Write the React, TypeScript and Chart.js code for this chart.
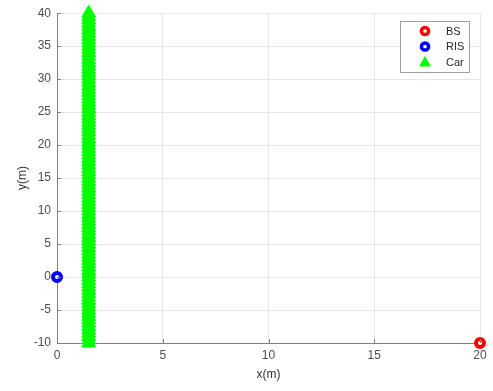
import React, { useEffect, useRef } from "react";
import { Chart, registerables } from "chart.js";

Chart.register(...registerables);

const seriesNames = ["BS", "RIS", "Car"];
const bsX = [20];
const bsY = [-10];
const risX = [0];
const risY = [0];
const carX = [1.5];
const carY = [
  -10, -9.5, -9, -8.5, -8, -7.5, -7, -6.5, -6, -5.5, -5, -4.5, -4, -3.5, -3, -2.5, -2, -1.5, -1, -0.5,
  0, 0.5, 1, 1.5, 2, 2.5, 3, 3.5, 4, 4.5, 5, 5.5, 6, 6.5, 7, 7.5, 8, 8.5, 9, 9.5,
  10, 10.5, 11, 11.5, 12, 12.5, 13, 13.5, 14, 14.5, 15, 15.5, 16, 16.5, 17, 17.5, 18, 18.5, 19, 19.5,
  20, 20.5, 21, 21.5, 22, 22.5, 23, 23.5, 24, 24.5, 25, 25.5, 26, 26.5, 27, 27.5, 28, 28.5, 29, 29.5,
  30, 30.5, 31, 31.5, 32, 32.5, 33, 33.5, 34, 34.5, 35, 35.5, 36, 36.5, 37, 37.5, 38, 38.5, 39, 39.5, 40,
];
const xTicks = [0, 5, 10, 15, 20];
const yTicks = [-10, -5, 0, 5, 10, 15, 20, 25, 30, 35, 40];
const xLabel = "x(m)";
const yLabel = "y(m)";

const FONT = "'Liberation Sans', Arial, Helvetica, sans-serif";

const tickMarksPlugin = {
  id: "tickMarks",
  afterDatasetsDraw(chart: any) {
    const { ctx, chartArea, scales } = chart;
    ctx.save();
    ctx.strokeStyle = "#808080";
    ctx.lineWidth = 1;
    ctx.beginPath();
    xTicks.forEach((v) => {
      const px = Math.round(scales.x.getPixelForValue(v)) + 0.5;
      ctx.moveTo(px, chartArea.bottom);
      ctx.lineTo(px, chartArea.bottom - 4);
    });
    yTicks.forEach((v) => {
      const py = Math.round(scales.y.getPixelForValue(v)) + 0.5;
      ctx.moveTo(chartArea.left, py);
      ctx.lineTo(chartArea.left + 4, py);
    });
    ctx.stroke();
    ctx.restore();
  },
};

const legendPlugin = {
  id: "boxLegend",
  afterDraw(chart: any) {
    const { ctx } = chart;
    const bx = 400.5, by = 21.5, bw = 69, bh = 51;
    ctx.save();
    ctx.fillStyle = "#ffffff";
    ctx.fillRect(bx, by, bw, bh);
    ctx.strokeStyle = "#a0a0a0";
    ctx.lineWidth = 1;
    ctx.strokeRect(bx, by, bw, bh);
    const rows = [31, 46.5, 62];
    chart.data.datasets.forEach((ds: any, i: number) => {
      const cx = 425, cy = rows[i];
      if (ds.pointStyle === "triangle") {
        ctx.fillStyle = ds.pointBackgroundColor;
        ctx.beginPath();
        ctx.moveTo(cx, cy - 6);
        ctx.lineTo(cx + 6, cy + 4.5);
        ctx.lineTo(cx - 6, cy + 4.5);
        ctx.closePath();
        ctx.fill();
      } else {
        ctx.strokeStyle = ds.pointBorderColor;
        ctx.lineWidth = 3.5;
        ctx.beginPath();
        ctx.arc(cx, cy, 3.6, 0, Math.PI * 2);
        ctx.stroke();
      }
      ctx.fillStyle = "#262626";
      ctx.font = `11px ${FONT}`;
      ctx.textBaseline = "middle";
      ctx.textAlign = "left";
      ctx.fillText(ds.label, 446, cy + 0.5);
    });
    ctx.restore();
  },
};

export default function App() {
  const ref = useRef<HTMLCanvasElement | null>(null);

  useEffect(() => {
    if (!ref.current) return;
    const toPts = (xs: number[], ys: number[]) =>
      ys.map((y, i) => ({ x: xs.length === 1 ? xs[0] : xs[i], y }));
    const chart = new Chart(ref.current, {
      type: "scatter",
      data: {
        datasets: [
          {
            label: seriesNames[0],
            data: toPts(bsX, bsY),
            pointStyle: "circle",
            pointRadius: 4,
            pointBorderWidth: 4,
            pointBorderColor: "#ff0000",
            pointBackgroundColor: "#ffffff",
            clip: false,
          } as any,
          {
            label: seriesNames[1],
            data: toPts(risX, risY),
            pointStyle: "circle",
            pointRadius: 4,
            pointBorderWidth: 4,
            pointBorderColor: "#0000ff",
            pointBackgroundColor: "#ffffff",
            clip: false,
          } as any,
          {
            label: seriesNames[2],
            data: toPts(carX, carY),
            pointStyle: "triangle",
            pointRadius: 8,
            pointBorderWidth: 1,
            pointBorderColor: "#00ff00",
            pointBackgroundColor: "#00ff00",
            clip: false,
          } as any,
        ],
      },
      options: {
        animation: false,
        responsive: false,
        maintainAspectRatio: false,
        layout: { padding: { top: 11, right: 13, left: 0, bottom: 0 } },
        plugins: {
          legend: { display: false },
          tooltip: { enabled: false },
        },
        scales: {
          x: {
            type: "linear",
            min: 0,
            max: 20,
            afterBuildTicks: (s: any) => {
              s.ticks = xTicks.map((v) => ({ value: v }));
            },
            afterFit: (s: any) => {
              s.height = 48;
            },
            grid: { color: "#e6e6e6", drawTicks: false },
            border: { color: "#808080", width: 1 },
            ticks: {
              padding: 5,
              color: "#4d4d4d",
              font: { family: FONT, size: 12 },
            },
            title: {
              display: true,
              text: xLabel,
              color: "#333333",
              font: { family: FONT, size: 12 },
              padding: { top: 0, bottom: 9 },
            },
          },
          y: {
            type: "linear",
            min: -10,
            max: 40,
            afterBuildTicks: (s: any) => {
              s.ticks = yTicks.map((v) => ({ value: v }));
            },
            afterFit: (s: any) => {
              s.width = 57;
            },
            grid: { color: "#e6e6e6", drawTicks: false },
            border: { color: "#808080", width: 1 },
            ticks: {
              padding: 6,
              color: "#4d4d4d",
              font: { family: FONT, size: 12 },
            },
            title: {
              display: true,
              text: yLabel,
              color: "#333333",
              font: { family: FONT, size: 12 },
              padding: { top: 15, bottom: 0 },
            },
          },
        },
      },
      plugins: [tickMarksPlugin, legendPlugin],
    });
    return () => chart.destroy();
  }, []);

  return (
    <div style={{ position: "absolute", left: 0, top: 0, width: 493, height: 391, background: "#ffffff" }}>
      <canvas ref={ref} width={493} height={391} />
    </div>
  );
}
